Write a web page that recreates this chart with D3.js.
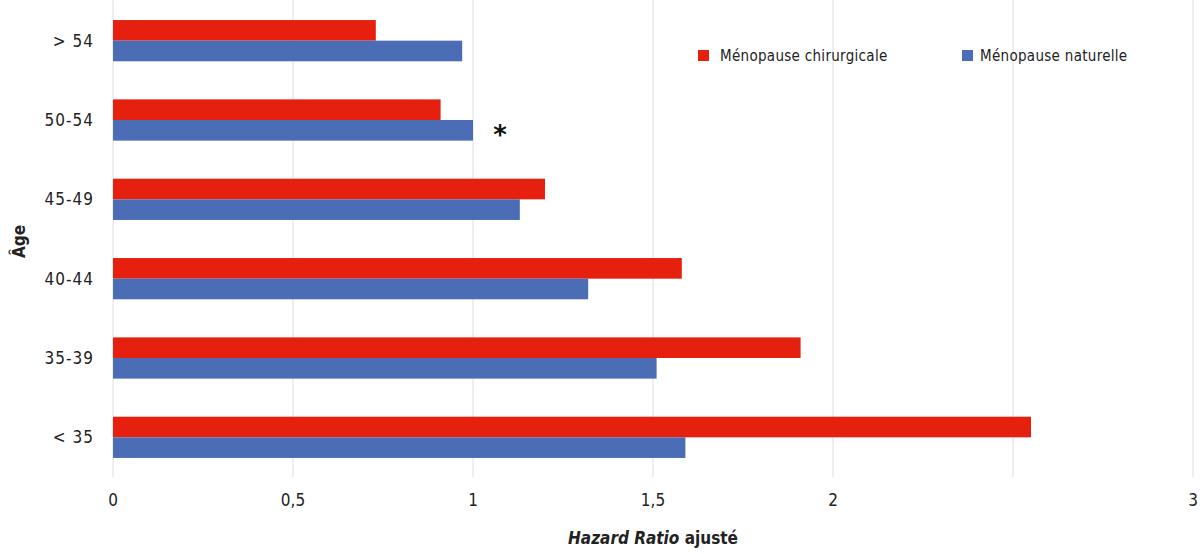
<!DOCTYPE html>
<html>
<head>
<meta charset="utf-8">
<script src="https://cdn.jsdelivr.net/npm/d3@7/dist/d3.min.js"></script>
<style>
  body { margin: 0; background: #fff; }
  svg text { font-family: "Liberation Sans Narrow", "DejaVu Sans Condensed", sans-serif; fill: #222; }
</style>
</head>
<body>
<div id="chart"></div>
<script>
// Data
const ageGroups = ['> 54', '50-54', '45-49', '40-44', '35-39', '< 35'];
const chirurgicale = [0.73, 0.91, 1.20, 1.58, 1.91, 2.55];
const naturelle = [0.97, 1.00, 1.13, 1.32, 1.51, 1.59];
const xTicks = [0, 0.5, 1, 1.5, 2, 3];
const gridTicks = [0, 0.5, 1, 1.5, 2, 2.5, 3];
const seriesNames = ['Ménopause chirurgicale', 'Ménopause naturelle'];
const colors = ['#e5200f', '#4a6db5'];

const width = 1200, height = 554;
const margin = { left: 113, right: 7, top: 1, bottom: 77 };

const svg = d3.select('#chart')
    .append('svg')
    .attr('width', width)
    .attr('height', height);

const x = d3.scaleLinear()
    .domain([0, 3])
    .range([margin.left, width - margin.right]);

const y = d3.scaleBand()
    .domain(ageGroups)
    .range([margin.top, height - margin.bottom])
    .paddingInner(0.48)
    .paddingOuter(0.24);

// Gridlines
svg.append('g')
    .selectAll('line')
    .data(gridTicks)
    .enter()
    .append('line')
    .attr('x1', d => x(d))
    .attr('x2', d => x(d))
    .attr('y1', 0)
    .attr('y2', height - margin.bottom)
    .attr('stroke', '#dedede')
    .attr('stroke-width', 1);

// Bars
const half = y.bandwidth() / 2;
const groups = svg.append('g')
    .selectAll('g')
    .data(ageGroups)
    .enter()
    .append('g')
    .attr('transform', d => `translate(0,${y(d)})`);

groups.append('rect')
    .attr('x', x(0))
    .attr('y', 0)
    .attr('width', (d, i) => x(chirurgicale[i]) - x(0))
    .attr('height', half)
    .attr('fill', colors[0]);

groups.append('rect')
    .attr('x', x(0))
    .attr('y', half)
    .attr('width', (d, i) => x(naturelle[i]) - x(0))
    .attr('height', half)
    .attr('fill', colors[1]);

// Asterisk next to 50-54
svg.append('text')
    .attr('x', x(1.075))
    .attr('y', y('50-54') + half * 2 + 3)
    .attr('text-anchor', 'middle')
    .style('font-family', 'DejaVu Sans, sans-serif')
    .style('font-weight', 'bold')
    .style('font-size', '26px')
    .style('fill', '#111')
    .text('*');

// Y axis labels
svg.append('g')
    .selectAll('text')
    .data(ageGroups)
    .enter()
    .append('text')
    .attr('x', 94)
    .attr('y', d => y(d) + half)
    .attr('dy', '0.35em')
    .attr('text-anchor', 'end')
    .style('font-size', '17px')
    .style('letter-spacing', '1px')
    .text(d => d);

// X axis labels
svg.append('g')
    .selectAll('text')
    .data(xTicks)
    .enter()
    .append('text')
    .attr('x', d => x(d))
    .attr('y', 506)
    .attr('text-anchor', 'middle')
    .style('font-size', '17px')
    .text(d => String(d).replace('.', ','));

// Axis titles
const xTitle = svg.append('text')
    .attr('x', (x(0) + x(3)) / 2)
    .attr('y', 544)
    .attr('text-anchor', 'middle')
    .style('font-size', '17px')
    .style('font-weight', 'bold');
xTitle.append('tspan').style('font-style', 'italic').text('Hazard Ratio');
xTitle.append('tspan').text(' ajusté');

svg.append('text')
    .attr('transform', `translate(25,${(height - margin.bottom) / 2 + 3}) rotate(-90)`)
    .attr('text-anchor', 'middle')
    .style('font-size', '17px')
    .style('font-weight', 'bold')
    .text('Âge');

// Legend
const legendX = [698, 962];
const legend = svg.append('g')
    .selectAll('g')
    .data(seriesNames)
    .enter()
    .append('g')
    .attr('transform', (d, i) => `translate(${legendX[i]},50)`);

legend.append('rect')
    .attr('width', 11)
    .attr('height', 11)
    .attr('fill', (d, i) => colors[i]);

legend.append('text')
    .attr('x', (d, i) => i === 0 ? 22 : 18)
    .attr('y', 6)
    .attr('dy', '0.35em')
    .style('font-size', '15px')
    .style('letter-spacing', '0.3px')
    .text(d => d);
</script>
</body>
</html>
